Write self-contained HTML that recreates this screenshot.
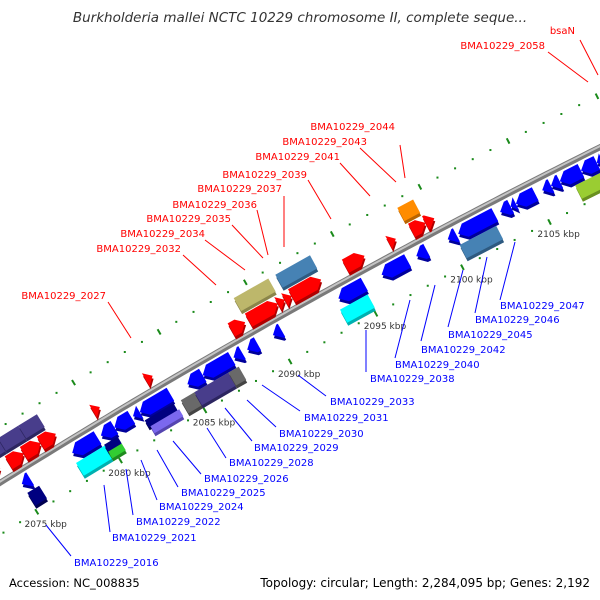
<!DOCTYPE html>
<html><head><meta charset="utf-8"><style>
html,body{margin:0;padding:0;background:#fff;}
svg{display:block;font-family:"DejaVu Sans","Liberation Sans",sans-serif;}
</style></head><body>
<svg id="map" width="600" height="600" viewBox="0 0 600 600" xmlns="http://www.w3.org/2000/svg">
<rect width="600" height="600" fill="#fff"/>
<text x="300" y="22" text-anchor="middle" font-size="13.5" font-style="italic" fill="#333">Burkholderia mallei NCTC 10229 chromosome II, complete seque...</text>
<g id="ticks"></g>
<g id="backbone"></g>
<g id="genes"></g>
<g id="labels"></g>
<text x="9" y="587" font-size="11.5" fill="#000">Accession: NC_008835</text>
<text x="590" y="587" text-anchor="end" font-size="12" fill="#000">Topology: circular; Length: 2,284,095 bp; Genes: 2,192</text>
</svg>
<script>
// ---- data ----
const geneStart = [2074.0,2075.1,2076.0,2077.0,2080.1,2083.2,2088.2,2089.2,2090.9,2091.3,2091.7,2094.8,2097.3,2098.6,2099.4,
  2074.0,2075.3,2076.5,2089.1,2091.5,2098.5,
  2075.1,2078.1,2079.8,2080.6,2081.7,2082.1,2084.9,2085.8,2087.6,2088.4,2089.9,2093.7,2096.2,2098.2,2100.0,2100.6,2103.0,2103.6,2103.9,2105.4,2105.9,2106.4,2107.6,2108.5,2108.8,2109.1,
  2075.1,2078.0,2079.7,2079.7,2082.1,2082.2,2084.2,2085.0,2087.0,2093.5,2100.4,2107.0];
const geneEnd = [2074.6,2076.0,2077.0,2077.9,2080.5,2083.6,2089.0,2090.9,2091.3,2091.7,2093.4,2095.9,2097.7,2099.4,2099.9,
  2075.3,2076.5,2077.6,2091.1,2093.5,2099.4,
  2075.6,2079.6,2080.6,2081.6,2082.1,2083.9,2085.8,2087.5,2088.1,2089.0,2090.4,2095.2,2097.7,2098.8,2100.5,2102.7,2103.6,2103.9,2105.0,2105.9,2106.4,2107.6,2108.5,2108.8,2109.1,2110.2,
  2075.8,2079.7,2080.5,2080.5,2083.8,2083.9,2085.2,2087.0,2087.6,2095.1,2102.5,2108.4];
const geneLane = ['A1','A1','A1','A1','A1','A1','A1','A1','A1','A1','A1','A1','A1','A1','A1',
  'A2','A2','A2','A2','A2','A2',
  'B1','B1','B1','B1','B1','B1','B1','B1','B1','B1','B1','B1','B1','B1','B1','B1','B1','B1','B1','B1','B1','B1','B1','B1','B1','B1',
  'B2','B2','B2u','B2l','B2u','B2l','B2','B2','B2','B2','B2','B2'];
const geneType = ['cds','cds','cds','cds','cds','cds','cds','cds','cds','cds','cds','cds','cds','cds','cds',
  'slate','slate','slate','khaki','steel','orange',
  'cds','cds','cds','cds','cds','cds','cds','cds','cds','cds','cds','cds','cds','cds','cds','cds','cds','cds','cds','cds','cds','cds','cds','cds','cds','cds',
  'navy','cyan','navy','green','navy','lavender','gray','slate','gray','cyan','steel','lime'];
const tickStart = 2068, tickEnd = 2116;
const kbpTickLabels = [2075,2080,2085,2090,2095,2100,2105];
const labelNamesTop = ['bsaN','BMA10229_2058','BMA10229_2044','BMA10229_2043','BMA10229_2041','BMA10229_2039','BMA10229_2037','BMA10229_2036','BMA10229_2035','BMA10229_2034','BMA10229_2032','BMA10229_2027'];
const labelNamesBottom = ['BMA10229_2016','BMA10229_2021','BMA10229_2022','BMA10229_2024','BMA10229_2025','BMA10229_2026','BMA10229_2028','BMA10229_2029','BMA10229_2030','BMA10229_2031','BMA10229_2033','BMA10229_2038','BMA10229_2040','BMA10229_2042','BMA10229_2045','BMA10229_2046','BMA10229_2047'];

// ---- layout / style ----
const NS='http://www.w3.org/2000/svg';
const Cx=3763, Cy=6506, R0=7102;
const a80=Math.atan2(463-Cy,122-Cx), a105=Math.atan2(217-Cy,547-Cx);
function ang(k){return a80+(k-2080)*(a105-a80)/25;}
function pos(k,o){const a=ang(k),r=R0+o;return [Cx+r*Math.cos(a),Cy+r*Math.sin(a)];}
const pxPerKbp=Math.abs(a105-a80)/25*R0;
const laneOff={A1:[5,20],A2:[24,39],B1:[-5,-20],B2:[-23,-38],B2u:[-22,-30],B2l:[-30,-38]};
const typeFill={cds:null,slate:['#483d8b','#2c2560'],khaki:['#bdb76b','#8a854a'],steel:['#4682b4','#2e5a80'],orange:['#ff8c00','#b86400'],navy:['#000080','#000050'],cyan:['#00ffff','#00b0b0'],green:['#32cd32','#1f8a1f'],lavender:['#7b68ee','#5545b0'],gray:['#696969','#444'],lime:['#9acd32','#6a9020']};

function mk(tag,attrs,parent){const e=document.createElementNS(NS,tag);for(const k in attrs)e.setAttribute(k,attrs[k]);parent.appendChild(e);return e;}

// ticks
const tg=document.getElementById('ticks');
[47,-44].forEach(o=>{
  for(let k=tickStart;k<=tickEnd;k++){
    if(k%5===0){
      const p1=pos(k,o-3),p2=pos(k,o+3);
      const l=mk('line',{x1:p1[0],y1:p1[1],x2:p2[0],y2:p2[1],stroke:'#1a8a1a','stroke-width':2},tg);
      
      
    } else {
      const p=pos(k,o);
      const d=mk('rect',{x:p[0]-1,y:p[1]-1,width:2,height:2,fill:'#1a8a1a'},tg);
      
      
    }
  }
});
kbpTickLabels.forEach(k=>{
  const p=pos(k,-42);
  const t=mk('text',{x:p[0]+10,y:p[1]+17,'text-anchor':'middle','font-size':'9','fill':'#333'},tg);
  t.textContent=k+' kbp';
  
  
});

// backbone
const bb=document.getElementById('backbone');
function arcPath(o){let d='';for(let k=tickStart;k<=tickEnd;k+=0.5){const p=pos(k,o);d+=(d?'L':'M')+p[0].toFixed(1)+','+p[1].toFixed(1);}return d;}
const b1=mk('path',{d:arcPath(0),stroke:'#7a7a7a','stroke-width':6,fill:'none'},bb);


const b2=mk('path',{d:arcPath(1),stroke:'#c4c4c4','stroke-width':2,fill:'none'},bb);



// genes
const gg=document.getElementById('genes');
for(let i=0;i<geneStart.length;i++){
  const k1=geneStart[i],k2=geneEnd[i],lo=laneOff[geneLane[i]],t=geneType[i];
  const o1=lo[0],o2=lo[1],om=(o1+o2)/2;
  let pts;
  if(t==='cds'){
    const fwd=o1>0;
    const h=Math.min(8/pxPerKbp,k2-k1);
    if(fwd) pts=[pos(k1,o1),pos(k2-h,o1),pos(k2,om),pos(k2-h,o2),pos(k1,o2)];
    else pts=[pos(k2,o1),pos(k1+h,o1),pos(k1,om),pos(k1+h,o2),pos(k2,o2)];
  } else {
    pts=[pos(k1,o1),pos(k2,o1),pos(k2,o2),pos(k1,o2)];
  }
  let cols;
  if(t==='cds') cols=o1>0?['#ff0000','#b00000']:['#0000ff','#00009a'];
  else cols=typeFill[t];
  const ps=pts.map(p=>p[0].toFixed(1)+','+p[1].toFixed(1)).join(' ');
  const sh=mk('polygon',{points:ps,fill:cols[1],transform:'translate(1,3)'},gg);
  
  
  const g=mk('polygon',{points:ps,fill:cols[0]},gg);
  
  
}

// labels (text x, baseline y, leader line)
const lg=document.getElementById('labels');
const topLbl=[[575,34,580,40,598,75],[545,49,548,52,588,82],[395,130,400,145,405,178],[367,145,360,148,396,182],[340,160,340,163,370,196],[307,178,308,180,331,219],[282,192,284,196,284,247],[257,208,257,210,268,255],[231,222,232,225,263,258],[205,237,205,240,245,270],[181,252,183,255,216,285],[106,299,108,302,131,338]];
const botLbl=[[74,566,71,556,46,525],[112,541,110,532,104,485],[136,525,133,515,126,469],[159,510,157,500,141,460],[181,496,178,487,157,450],[204,482,201,474,173,441],[229,466,226,458,207,428],[254,451,252,441,225,408],[279,437,276,427,247,400],[304,421,300,411,262,385],[330,405,326,396,298,375],[370,382,366,372,366,330],[395,368,395,358,410,300],[421,353,421,341,435,285],[448,338,448,327,463,270],[475,323,475,313,487,257],[500,309,500,300,515,242]];
topLbl.forEach((d,i)=>{
  const l=mk('line',{x1:d[2],y1:d[3],x2:d[4],y2:d[5],stroke:'#ff0000','stroke-width':1},lg);
  
  
  const t=mk('text',{x:d[0],y:d[1],'text-anchor':'end','font-size':'10','fill':'#ff0000'},lg);
  t.textContent=labelNamesTop[i];
  
  
});
botLbl.forEach((d,i)=>{
  const l=mk('line',{x1:d[2],y1:d[3],x2:d[4],y2:d[5],stroke:'#0000ff','stroke-width':1},lg);
  
  
  const t=mk('text',{x:d[0],y:d[1],'font-size':'10','fill':'#0000ff'},lg);
  t.textContent=labelNamesBottom[i];
  
  
});
</script>
</body></html>
